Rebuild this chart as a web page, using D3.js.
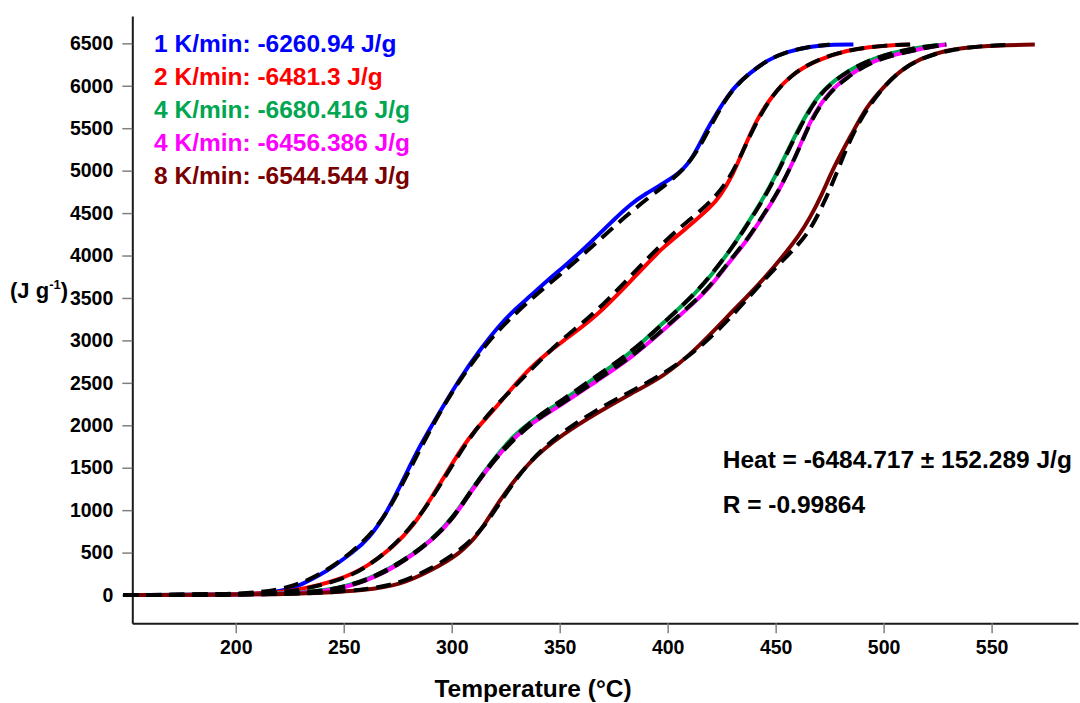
<!DOCTYPE html>
<html><head><meta charset="utf-8">
<script src="https://cdn.jsdelivr.net/npm/d3@7"></script>
<style>
html,body{margin:0;padding:0;background:#fff;}
svg{display:block;font-family:"Liberation Sans",Arial,sans-serif;font-weight:bold;}
</style></head>
<body>
<svg id="chart" width="1080" height="703"></svg>
<script>
// ---------- data ----------
const legendLabels = ["1 K/min: -6260.94 J/g", "2 K/min: -6481.3 J/g", "4 K/min: -6680.416 J/g", "4 K/min: -6456.386 J/g", "8 K/min: -6544.544 J/g"];
const xTicks = [200, 250, 300, 350, 400, 450, 500, 550];
const yTicks = [0, 500, 1000, 1500, 2000, 2500, 3000, 3500, 4000, 4500, 5000, 5500, 6000, 6500];
const heatText = "Heat = -6484.717 \u00B1 152.289 J/g";
const rText = "R = -0.99864";

// experimental curves (temperature °C, heat J/g)
const t1 = [150, 200, 215, 225, 230, 240, 245, 255, 261, 270, 279, 285, 295, 304, 313, 322, 330, 336, 344, 352, 360, 367, 375, 383, 390, 398, 406, 412, 418, 423, 428, 433, 438, 446, 455, 467, 477, 486];
const v1 = [0, 5, 20, 70, 118, 250, 333, 520, 648, 962, 1434, 1747, 2180, 2560, 2886, 3180, 3380, 3514, 3700, 3870, 4050, 4221, 4420, 4610, 4730, 4850, 4975, 5164, 5478, 5690, 5890, 6040, 6146, 6303, 6401, 6468, 6485, 6485];
const t2 = [150, 210, 230, 248, 261, 273, 282, 290, 300, 305, 310, 321, 336, 352, 367, 384, 398, 403, 413, 420, 424, 430, 435, 441, 449, 458, 469, 483, 497, 512];
const v2 = [0, 5, 59, 177, 333, 569, 805, 1119, 1540, 1740, 1920, 2220, 2690, 3004, 3279, 3730, 4103, 4200, 4418, 4575, 4690, 4940, 5243, 5596, 5911, 6146, 6303, 6421, 6468, 6485];
const t3 = [150, 225, 245, 261, 276, 291, 301, 310, 320, 328, 336, 352, 367, 383, 398, 413, 420, 429, 434, 446, 455, 461, 469, 477, 489, 505, 520, 529];
const v3 = [0, 10, 59, 177, 373, 648, 923, 1276, 1620, 1860, 2040, 2297, 2572, 2848, 3210, 3554, 3760, 4064, 4261, 4733, 5204, 5517, 5871, 6067, 6264, 6401, 6468, 6485];
const t4 = [150, 225, 245, 261, 276, 291, 301, 310, 320, 328, 336, 352, 367, 383, 398, 413, 420, 429, 437, 445, 451, 460, 466, 474, 483, 495, 511, 520, 529];
const v4 = [0, 5, 50, 165, 360, 640, 910, 1260, 1600, 1830, 2010, 2260, 2520, 2790, 3120, 3460, 3640, 3940, 4182, 4500, 4733, 5204, 5596, 5911, 6107, 6303, 6401, 6452, 6485];
const t5 = [150, 230, 261, 276, 291, 304, 313, 321, 336, 352, 367, 383, 398, 413, 429, 437, 445, 453, 461, 466, 471, 477, 485, 492, 500, 508, 517, 529, 543, 570];
const v5 = [0, 5, 59, 118, 295, 491, 727, 1080, 1590, 1905, 2141, 2376, 2572, 2886, 3319, 3520, 3740, 3980, 4240, 4450, 4693, 5050, 5420, 5753, 5989, 6185, 6323, 6421, 6468, 6485];

// model fits (dashed)
const f1t = [148, 200, 225, 245, 260, 270, 280, 290, 300, 310, 320, 330, 340, 350, 360, 370, 380, 390, 400, 408, 414, 420, 426, 432, 438, 446, 455, 465, 475];
const f1v = [0, 5, 60, 320, 640, 950, 1450, 1950, 2390, 2760, 3080, 3330, 3560, 3770, 3990, 4220, 4450, 4660, 4850, 5030, 5240, 5530, 5810, 6010, 6150, 6300, 6400, 6460, 6485];
const f2t = [148, 210, 230, 250, 260, 270, 280, 290, 300, 310, 320, 330, 340, 350, 360, 370, 380, 390, 400, 410, 420, 428, 434, 440, 448, 458, 470, 485, 500, 515];
const f2v = [0, 5, 50, 190, 320, 510, 760, 1100, 1520, 1920, 2220, 2480, 2740, 2990, 3190, 3420, 3680, 3950, 4200, 4420, 4630, 4880, 5180, 5520, 5880, 6150, 6320, 6430, 6475, 6490];
const f3t = [148, 225, 245, 261, 276, 291, 301, 310, 320, 336, 352, 367, 383, 398, 413, 420, 429, 434, 446, 455, 461, 469, 477, 489, 505, 520, 529];
const f3v = [0, 10, 59, 177, 373, 648, 923, 1270, 1620, 2050, 2310, 2580, 2860, 3200, 3560, 3770, 4064, 4250, 4720, 5190, 5500, 5860, 6060, 6264, 6401, 6468, 6485];
const f4t = [148, 225, 245, 261, 276, 291, 301, 310, 320, 336, 352, 367, 383, 398, 413, 420, 429, 437, 445, 451, 460, 466, 474, 483, 495, 511, 520, 529];
const f4v = [0, 5, 52, 168, 362, 642, 912, 1262, 1605, 2020, 2270, 2530, 2800, 3130, 3470, 3650, 3950, 4190, 4510, 4740, 5200, 5580, 5900, 6100, 6300, 6400, 6450, 6485];
const f5t = [148, 230, 260, 275, 290, 305, 315, 322, 335, 350, 365, 380, 395, 410, 425, 440, 450, 460, 466, 472, 477, 483, 490, 500, 508, 518, 530, 545, 560];
const f5v = [0, 5, 60, 130, 300, 540, 800, 1080, 1560, 1900, 2150, 2360, 2560, 2810, 3150, 3580, 3860, 4110, 4300, 4600, 4889, 5282, 5650, 5990, 6190, 6330, 6420, 6470, 6485];

const seriesT = [t1, t2, t3, t4, t5];
const seriesV = [v1, v2, v3, v4, v5];
const fitT = [f1t, f2t, f3t, f4t, f5t];
const fitV = [f1v, f2v, f3v, f4v, f5v];

// ---------- styles ----------
const colors = ["#0000ff", "#ff0000", "#00a650", "#ff00ff", "#7a0000"];

// ---------- chart ----------
const svg = d3.select("#chart");
const x = d3.scaleLinear().domain([152.1, 590]).range([132.3, 1078]);
const y = d3.scaleLinear().domain([-333, 6822]).range([623.3, 16]);

const tickFont = "19.5px";
const xMinor = d3.range(175, 590, 50);
const yMinor = d3.range(-250, 6822, 500);

const gx = svg.append("g").attr("transform", `translate(0,${y.range()[0]})`);
gx.call(d3.axisBottom(x).tickValues(xMinor).tickSize(5).tickSizeOuter(0).tickFormat(""));
gx.call(d3.axisBottom(x).tickValues(xTicks).tickSize(10).tickSizeOuter(0).tickPadding(6.5).tickFormat(d3.format("d")));
const gy = svg.append("g").attr("transform", `translate(${x.range()[0]},0)`);
gy.call(d3.axisLeft(y).tickValues(yMinor).tickSize(5).tickSizeOuter(0).tickFormat(""));
gy.call(d3.axisLeft(y).tickValues(yTicks).tickSize(10).tickSizeOuter(0).tickPadding(9).tickFormat(d3.format("d")));

[gx, gy].forEach(g => {
  g.selectAll(".tick line").attr("stroke", "#808080").attr("stroke-width", 1.5);
  g.selectAll(".domain").attr("stroke", "#1a1a1a").attr("stroke-width", 2);
  g.selectAll("text").attr("fill", "#000").style("font-size", tickFont).style("font-weight", "bold")
    .style("font-family", "'Liberation Sans',Arial,sans-serif");
});

const line = d3.line().x(d => x(d[0])).y(d => y(d[1])).curve(d3.curveBasis);

const plot = svg.append("g");
seriesT.forEach((ts, i) => {
  plot.append("path")
    .datum(ts.map((t, j) => [t, seriesV[i][j]]))
    .attr("d", line).attr("fill", "none")
    .attr("stroke", colors[i]).attr("stroke-width", 4)
    .attr("stroke-linejoin", "round");
});
fitT.forEach((ts, i) => {
  plot.append("path")
    .datum(ts.map((t, j) => [t, fitV[i][j]]))
    .attr("d", line).attr("fill", "none")
    .attr("stroke", "#000").attr("stroke-width", 4)
    .attr("stroke-dasharray", "15,8");
});

// legend
legendLabels.forEach((lab, i) => {
  svg.append("text").attr("x", 154).attr("y", 52 + i * 33)
    .attr("fill", colors[i]).style("font-size", "24.5px").text(lab);
});

// annotation
svg.append("text").attr("x", 722.7).attr("y", 467.7).style("font-size", "24.5px").attr("fill", "#000").text(heatText);
svg.append("text").attr("x", 722.7).attr("y", 512.7).style("font-size", "24.5px").attr("fill", "#000").text(rText);

// axis titles
svg.append("text").attr("x", 533).attr("y", 697).attr("text-anchor", "middle")
  .style("font-size", "24.5px").attr("fill", "#000").text("Temperature (\u00B0C)");
const yl = svg.append("text").attr("x", 10).attr("y", 298).style("font-size", "22px").attr("fill", "#000");
yl.append("tspan").text("(J g");
yl.append("tspan").attr("dy", -9).style("font-size", "13px").text("-1");
yl.append("tspan").attr("dy", 9).text(")");
</script>
</body></html>
